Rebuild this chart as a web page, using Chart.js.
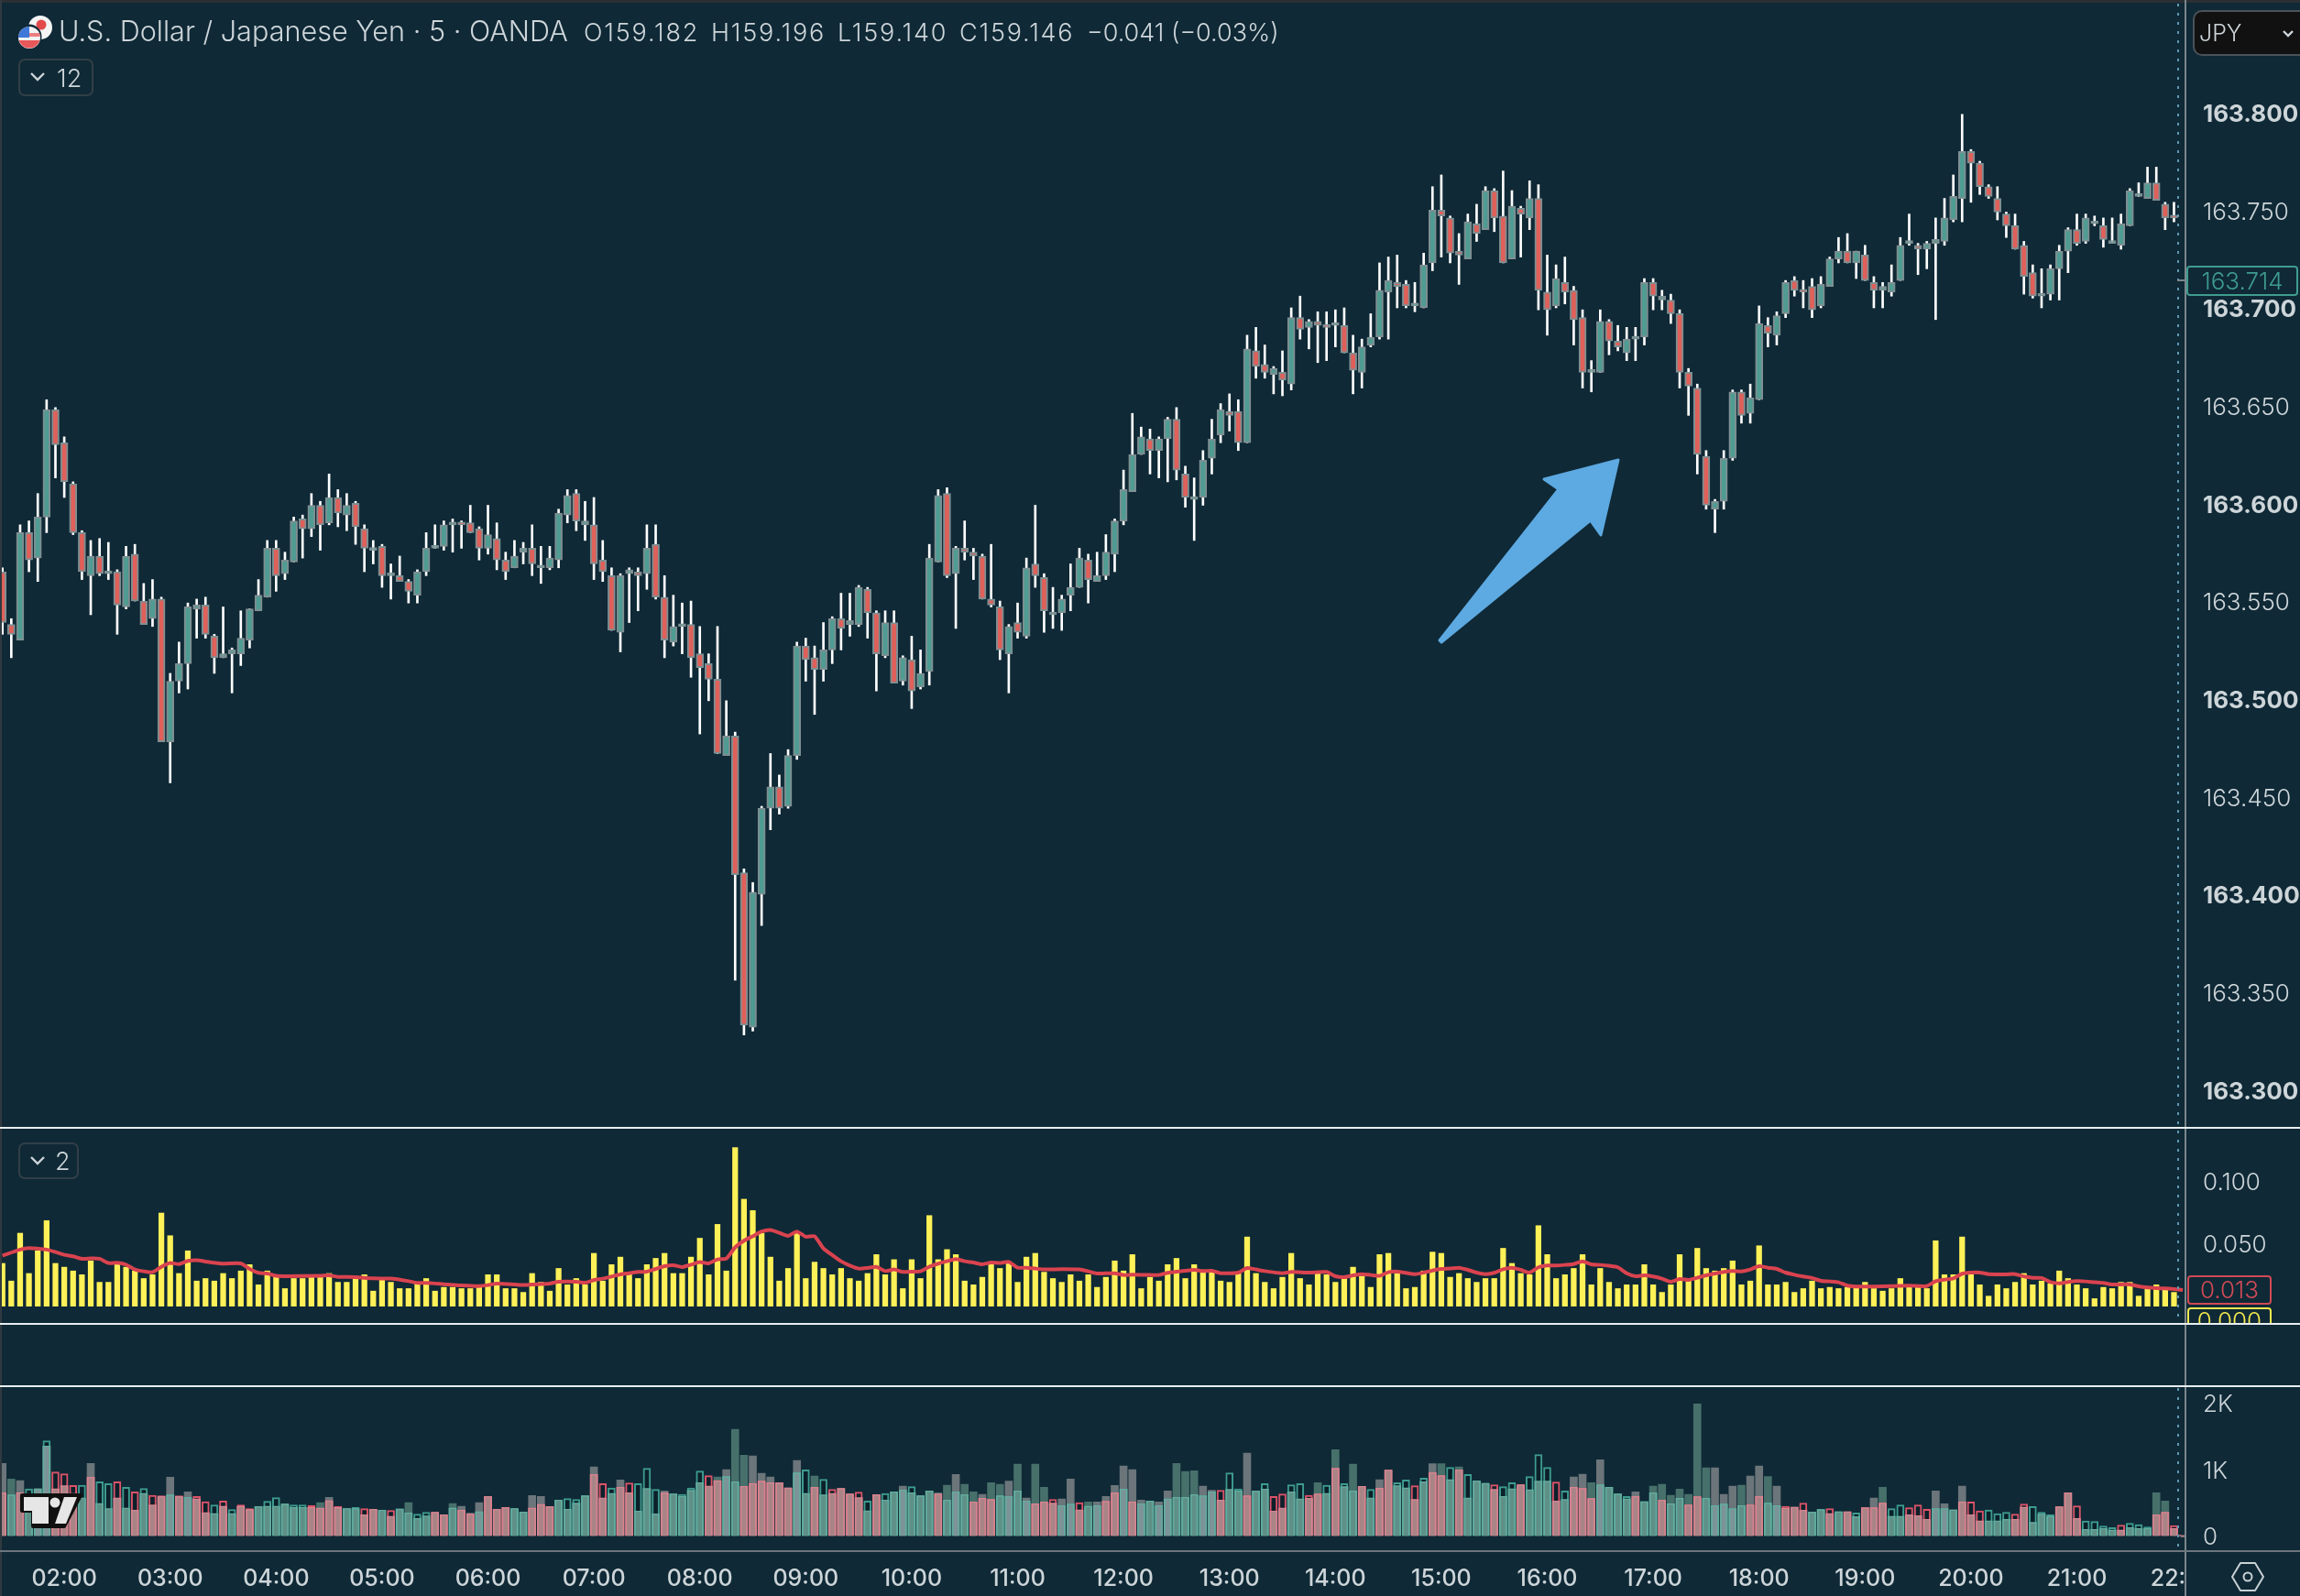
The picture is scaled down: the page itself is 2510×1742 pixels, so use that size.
<!DOCTYPE html>
<html><head><meta charset="utf-8">
<script src="https://cdn.jsdelivr.net/npm/chart.js@4/dist/chart.umd.min.js"></script>
<style>
html,body{margin:0;padding:0;background:#0f2936;width:2510px;height:1742px;overflow:hidden}
body{position:relative;font-family:Inter,"Noto Sans",sans-serif;color:#cdd5d9}
canvas{position:absolute;left:0}
.t{position:absolute;white-space:nowrap;line-height:1}
.ln{position:absolute}
.btn{position:absolute;border:2px solid #323f47;border-radius:7px;box-sizing:border-box}
.box{position:absolute;box-sizing:border-box;border-radius:4px;background:#0f2936;text-align:center;font-size:26px}
svg{position:absolute;left:0;top:0}
</style></head><body>
<canvas id="cMain" width="2510" height="1231" style="top:0"></canvas>
<canvas id="cVol" width="2510" height="214" style="top:1231px"></canvas>
<canvas id="cBars" width="2510" height="229" style="top:1513px"></canvas>

<svg width="2510" height="1742" viewBox="0 0 2510 1742">
  <line x1="2377" y1="4" x2="2377" y2="1440" stroke="#5f97b5" stroke-width="2" stroke-dasharray="3 7"/>
  <line x1="2377" y1="1515" x2="2377" y2="1692" stroke="#5f97b5" stroke-width="2" stroke-dasharray="3 7"/>
  <polygon points="1571,699 1701,534 1685,523 1766,502 1747,584 1735.6,568 1573,701" fill="#5da9e1" stroke="#5da9e1" stroke-width="3" stroke-linejoin="round"/>
  <circle cx="44" cy="30" r="13" fill="#f4f4f4"/><circle cx="45" cy="27" r="5.5" fill="#e24a4a"/>
  <circle cx="32" cy="40" r="13.5" fill="#0f2936"/>
  <circle cx="32" cy="41" r="12" fill="#f2f2f2"/>
  <path d="M20.5 44h23a12 12 0 0 1-23 0z" fill="#e8575a"/>
  <path d="M21 36h22a12 12 0 0 1 .9 4H20.1a12 12 0 0 1 .9-4z" fill="#e8575a" opacity=".75"/>
  <path d="M32 29a12 12 0 0 0-12 12h12z" fill="#3f78d8"/>
  <path d="M24 1632H88L70 1666H36V1649H24Z" fill="#101010" stroke="#101010" stroke-width="4" stroke-linejoin="round"/>
  <path d="M26 1634H53V1663H35V1649H26Z" fill="#e6e6e6"/>
  <circle cx="60" cy="1640" r="5.5" fill="#e6e6e6"/>
  <path d="M70 1634H84L72 1663H60Z" fill="#e6e6e6"/>
  <path d="M34 80l7 7 7-7" fill="none" stroke="#cdd5d9" stroke-width="2.4"/>
  <path d="M34 1263l7 7 7-7" fill="none" stroke="#cdd5d9" stroke-width="2.4"/>
  <path d="M2445 1706H2461L2470 1721L2461 1736H2445L2436 1721Z" fill="none" stroke="#c9d1d5" stroke-width="2" stroke-linejoin="round"/>
  <circle cx="2453" cy="1721" r="4.5" fill="none" stroke="#c9d1d5" stroke-width="2"/>
</svg>

<div class="ln" style="left:0;top:0;width:2510px;height:3px;background:#2b2f33"></div>
<div class="ln" style="left:0;top:0;width:2px;height:1742px;background:#2f3a40"></div>
<div class="ln" style="left:2384px;top:0;width:2px;height:1742px;background:#7b868c"></div>
<div class="ln" style="left:0;top:1230px;width:2510px;height:2px;background:#e8eef0"></div>
<div class="ln" style="left:0;top:1444px;width:2510px;height:2px;background:#e8eef0"></div>
<div class="ln" style="left:0;top:1512px;width:2510px;height:2px;background:#e8eef0"></div>
<div class="ln" style="left:0;top:1692px;width:2510px;height:2px;background:#6d767c"></div>
<div class="ln" style="left:2376px;top:305px;width:9px;height:2px;background:#7b868c"></div>

<div class="t" style="left:64px;top:19px;font-size:30.6px;font-weight:300">U.S. Dollar / Japanese Yen · 5 · OANDA</div>
<div class="t" style="left:637px;top:22px;font-size:27px;font-weight:300;letter-spacing:1.8px">O159.182</div>
<div class="t" style="left:776px;top:22px;font-size:27px;font-weight:300;letter-spacing:1.8px">H159.196</div>
<div class="t" style="left:914px;top:22px;font-size:27px;font-weight:300;letter-spacing:1.8px">L159.140</div>
<div class="t" style="left:1047px;top:22px;font-size:27px;font-weight:300;letter-spacing:1.8px">C159.146</div>
<div class="t" style="left:1186px;top:22px;font-size:27px;font-weight:300">−0.041 (−0.03%)</div>

<div class="btn" style="left:20px;top:64px;width:82px;height:41px"></div>
<div class="t" style="left:62px;top:72px;font-size:27px;font-weight:300">12</div>
<div class="btn" style="left:20px;top:1247px;width:66px;height:40px"></div>
<div class="t" style="left:60px;top:1254px;font-size:27px;font-weight:300">2</div>

<div style="position:absolute;left:2393px;top:11px;width:130px;height:50px;box-sizing:border-box;background:#111;border:2px solid #4a5258;border-radius:10px"></div>
<div class="t" style="left:2400px;top:24px;font-size:25px;font-weight:300">JPY</div>
<svg width="2510" height="1742" viewBox="0 0 2510 1742"><path d="M2492 34l5 5 5-5" fill="none" stroke="#cdd5d9" stroke-width="2.4"/></svg>

<div class="box" style="left:2386px;top:290px;width:122px;height:33px;border:2px solid #3f9c8f;color:#3f9c8f;line-height:29px;font-weight:300">163.714</div>
<div class="box" style="left:2387px;top:1392px;width:92px;height:32px;border:2px solid #cf4a55;color:#cf4a55;line-height:28px;font-weight:300">0.013</div>
<div style="position:absolute;left:2387px;top:1427px;width:92px;height:17px;overflow:hidden">
  <div class="box" style="left:0;top:0;width:92px;height:30px;border:2px solid #f4e84e;color:#f4e84e;line-height:26px;font-weight:300">0.000</div>
</div>

<script>
// ---------- candles (5 minute bars, bar 7 = 02:00) ----------
const open=[163.565,163.538,163.530,163.585,163.572,163.593,163.648,163.631,163.610,163.585,
163.563,163.573,163.564,163.565,163.547,163.574,163.550,163.541,163.551,163.478,
163.509,163.518,163.546,163.548,163.532,163.521,163.523,163.523,163.530,163.545,
163.552,163.577,163.564,163.570,163.592,163.587,163.599,163.590,163.603,163.594,
163.600,163.587,163.576,163.578,163.563,163.563,163.560,163.553,163.565,163.577,
163.578,163.589,163.590,163.590,163.587,163.577,163.582,163.571,163.567,163.575,
163.577,163.567,163.567,163.571,163.594,163.605,163.589,163.589,163.571,163.563,
163.534,163.564,163.565,163.564,163.579,163.552,163.529,163.537,163.538,163.523,
163.518,163.510,163.471,163.481,163.411,163.332,163.400,163.444,163.455,163.445,
163.471,163.527,163.521,163.515,163.525,163.541,163.538,163.538,163.556,163.544,
163.522,163.539,163.509,163.520,163.506,163.514,163.570,163.605,163.564,163.577,
163.575,163.573,163.551,163.547,163.523,163.539,163.532,163.569,163.562,163.543,
163.544,163.553,163.557,163.571,163.560,163.563,163.574,163.591,163.606,163.625,
163.633,163.627,163.633,163.643,163.615,163.602,163.603,163.623,163.635,163.647,
163.647,163.631,163.678,163.671,163.666,163.667,163.661,163.695,163.690,163.693,
163.691,163.691,163.691,163.677,163.667,163.681,163.685,163.708,163.713,163.712,
163.701,163.700,163.723,163.750,163.746,163.729,163.725,163.743,163.740,163.760,
163.747,163.725,163.751,163.746,163.756,163.708,163.701,163.713,163.709,163.695,
163.667,163.667,163.693,163.683,163.677,163.684,163.685,163.713,163.704,163.704,
163.697,163.667,163.659,163.624,163.597,163.601,163.623,163.657,163.646,163.653,
163.691,163.686,163.697,163.714,163.709,163.711,163.701,163.711,163.725,163.729,
163.723,163.727,163.713,163.709,163.708,163.714,163.733,163.732,163.730,163.733,
163.734,163.745,163.756,163.780,163.774,163.762,163.756,163.748,163.742,163.732,
163.718,163.706,163.707,163.720,163.729,163.740,163.734,163.743,163.742,163.733,
163.732,163.742,163.757,163.756,163.764,163.753,163.747];
const close=[163.539,163.533,163.585,163.571,163.593,163.648,163.630,163.611,163.585,163.565,
163.573,163.564,163.565,163.548,163.573,163.550,163.538,163.551,163.478,163.509,
163.518,163.547,163.548,163.533,163.521,163.523,163.525,163.531,163.546,163.553,
163.577,163.563,163.571,163.591,163.587,163.599,163.589,163.603,163.595,163.599,
163.588,163.577,163.577,163.563,163.564,163.560,163.555,163.565,163.577,163.578,
163.589,163.590,163.589,163.585,163.577,163.584,163.571,163.565,163.573,163.577,
163.569,163.568,163.572,163.595,163.604,163.591,163.591,163.569,163.565,163.535,
163.563,163.566,163.563,163.577,163.552,163.530,163.537,163.538,163.521,163.516,
163.510,163.472,163.481,163.410,163.333,163.401,163.444,163.455,163.444,163.471,
163.527,163.520,163.515,163.525,163.541,163.536,163.540,163.557,163.544,163.523,
163.539,163.508,163.521,163.504,163.513,163.572,163.604,163.563,163.577,163.575,
163.573,163.551,163.548,163.525,163.537,163.534,163.567,163.563,163.545,163.544,
163.551,163.557,163.572,163.561,163.563,163.575,163.591,163.607,163.625,163.634,
163.627,163.633,163.643,163.617,163.603,163.603,163.622,163.633,163.648,163.645,
163.631,163.679,163.670,163.667,163.669,163.663,163.695,163.689,163.693,163.691,
163.690,163.692,163.677,163.668,163.680,163.685,163.709,163.714,163.711,163.701,
163.702,163.722,163.750,163.747,163.728,163.727,163.744,163.738,163.760,163.746,
163.723,163.752,163.748,163.756,163.709,163.699,163.715,163.708,163.694,163.667,
163.668,163.693,163.683,163.680,163.684,163.685,163.713,163.706,163.706,163.697,
163.667,163.660,163.625,163.599,163.601,163.623,163.657,163.645,163.654,163.692,
163.687,163.696,163.713,163.709,163.708,163.699,163.712,163.725,163.729,163.723,
163.729,163.714,163.709,163.711,163.713,163.732,163.734,163.730,163.733,163.735,
163.746,163.757,163.780,163.774,163.762,163.757,163.749,163.742,163.730,163.716,
163.706,163.707,163.720,163.729,163.740,163.733,163.746,163.744,163.735,163.734,
163.743,163.760,163.758,163.764,163.755,163.746,163.746];
const high=[163.567,163.541,163.589,163.591,163.605,163.653,163.649,163.634,163.611,163.586,
163.581,163.582,163.580,163.566,163.578,163.579,163.559,163.561,163.552,163.513,
163.529,163.549,163.551,163.552,163.533,163.547,163.526,163.545,163.546,163.561,
163.581,163.581,163.575,163.593,163.594,163.605,163.601,163.615,163.607,163.605,
163.601,163.589,163.581,163.579,163.569,163.573,163.561,163.566,163.585,163.589,
163.591,163.592,163.591,163.599,163.588,163.599,163.590,163.575,163.581,163.580,
163.589,163.578,163.578,163.597,163.607,163.607,163.601,163.603,163.581,163.567,
163.564,163.567,163.567,163.589,163.589,163.563,163.553,163.549,163.550,163.537,
163.523,163.537,163.499,163.483,163.413,163.406,163.445,163.472,163.461,163.474,
163.529,163.531,163.527,163.539,163.542,163.554,163.554,163.558,163.557,163.545,
163.545,163.545,163.522,163.532,163.525,163.579,163.607,163.608,163.578,163.591,
163.577,163.574,163.579,163.550,163.538,163.549,163.572,163.599,163.564,163.557,
163.553,163.569,163.577,163.574,163.575,163.584,163.592,163.617,163.646,163.639,
163.638,163.634,163.644,163.649,163.619,163.613,163.627,163.643,163.651,163.656,
163.653,163.686,163.690,163.681,163.670,163.678,163.700,163.706,163.694,163.698,
163.698,163.699,163.700,163.686,163.684,163.697,163.723,163.726,163.727,163.714,
163.713,163.728,163.762,163.768,163.747,163.738,163.748,163.753,163.762,163.761,
163.770,163.760,163.752,163.765,163.763,163.727,163.722,163.726,163.711,163.699,
163.673,163.699,163.694,163.691,163.690,163.690,163.715,163.715,163.709,163.707,
163.699,163.669,163.661,163.627,163.602,163.627,163.658,163.658,163.661,163.701,
163.695,163.698,163.714,163.716,163.714,163.715,163.716,163.726,163.736,163.738,
163.729,163.732,163.716,163.713,163.722,163.736,163.748,163.733,163.734,163.746,
163.756,163.768,163.799,163.781,163.775,163.763,163.762,163.749,163.748,163.734,
163.722,163.720,163.722,163.732,163.741,163.748,163.748,163.747,163.746,163.746,
163.748,163.761,163.764,163.772,163.772,163.754,163.754];
const low=[163.533,163.521,163.530,163.565,163.560,163.585,163.613,163.603,163.584,163.561,
163.543,163.563,163.561,163.533,163.546,163.550,163.538,163.537,163.478,163.457,
163.503,163.505,163.531,163.531,163.513,163.521,163.503,163.517,163.526,163.545,
163.552,163.555,163.561,163.570,163.572,163.583,163.576,163.589,163.588,163.586,
163.579,163.565,163.569,163.557,163.551,163.560,163.549,163.549,163.563,163.577,
163.576,163.575,163.577,163.585,163.571,163.574,163.566,163.561,163.567,163.569,
163.563,163.559,163.566,163.567,163.590,163.586,163.581,163.561,163.560,163.535,
163.524,163.539,163.545,163.556,163.551,163.521,163.527,163.523,163.511,163.482,
163.499,163.472,163.471,163.356,163.328,163.330,163.384,163.433,163.441,163.444,
163.469,163.509,163.492,163.509,163.518,163.525,163.532,163.537,163.531,163.504,
163.521,163.508,163.507,163.495,163.505,163.507,163.570,163.562,163.536,163.571,
163.561,163.551,163.547,163.520,163.503,163.531,163.531,163.557,163.534,163.536,
163.535,163.545,163.557,163.549,163.560,163.561,163.565,163.589,163.606,163.625,
163.615,163.613,163.611,163.612,163.598,163.581,163.599,163.615,163.631,163.637,
163.627,163.631,163.664,163.664,163.656,163.655,163.658,163.684,163.679,163.672,
163.673,163.680,163.677,163.656,163.659,163.680,163.684,163.684,163.700,163.700,
163.698,163.700,163.719,163.726,163.723,163.712,163.725,163.734,163.740,163.739,
163.723,163.725,163.726,163.740,163.699,163.686,163.700,163.702,163.681,163.659,
163.657,163.667,163.676,163.678,163.673,163.673,163.681,163.699,163.699,163.692,
163.659,163.645,163.615,163.597,163.585,163.597,163.622,163.641,163.641,163.653,
163.680,163.681,163.695,163.706,163.700,163.695,163.700,163.711,163.723,163.723,
163.715,163.714,163.700,163.700,163.706,163.714,163.732,163.717,163.720,163.694,
163.732,163.744,163.744,163.754,163.758,163.756,163.745,163.736,163.730,163.707,
163.705,163.700,163.704,163.704,163.718,163.732,163.733,163.742,163.731,163.733,
163.730,163.742,163.757,163.756,163.755,163.740,163.744];

// ---------- yellow indicator pane ----------
const indicator=[.034,.020,.058,.026,.044,.068,.034,.031,.028,.025,.036,.019,.019,.033,.031,.028,.022,.025,.074,.056,
.026,.044,.020,.022,.020,.026,.022,.028,.033,.017,.028,.025,.014,.022,.022,.023,.023,.026,.019,.019,
.022,.025,.012,.022,.019,.014,.014,.019,.022,.012,.015,.015,.014,.014,.015,.025,.025,.014,.014,.011,
.026,.019,.012,.030,.017,.022,.017,.042,.020,.033,.039,.025,.022,.033,.038,.042,.026,.026,.039,.054,
.025,.065,.028,.126,.085,.076,.058,.039,.020,.030,.058,.022,.035,.030,.025,.030,.022,.020,.026,.041,
.025,.037,.014,.037,.022,.072,.037,.045,.041,.020,.017,.023,.033,.030,.035,.019,.039,.042,.027,.022,
.019,.025,.020,.025,.015,.023,.036,.028,.041,.014,.023,.020,.033,.038,.022,.033,.027,.027,.020,.019,
.026,.055,.026,.019,.014,.023,.042,.022,.017,.026,.025,.019,.022,.031,.024,.015,.041,.042,.026,.014,
.015,.028,.043,.042,.023,.026,.022,.019,.022,.022,.046,.034,.026,.025,.064,.041,.022,.025,.030,.041,
.017,.030,.019,.014,.017,.017,.033,.017,.011,.017,.041,.022,.046,.030,.028,.030,.036,.017,.020,.048,
.017,.017,.019,.011,.014,.020,.014,.015,.014,.015,.015,.019,.014,.012,.014,.022,.015,.015,.014,.052,
.025,.025,.055,.025,.017,.008,.017,.014,.019,.026,.017,.020,.018,.028,.022,.017,.014,.006,.015,.014,
.019,.019,.008,.014,.017,.014,.011];
const maBars=[0,2,3,5,6,7,8,9,10,11,12,13,14,15,16,17,18,19,20,21,22,23,24,25,27,28,29,30,31,32,36,37,38,40,42,44,46,47,48,50,52,54,55,56,58,59,60,62,63,65,66,67,68,69,70,71,72,73,74,75,76,77,78,79,80,81,82,83,84,85,86,87,88,89,90,91,92,93,94,95,96,97,98,99,100,101,102,103,104,105,106,107,108,109,110,111,112,113,114,115,116,117,118,120,122,123,124,126,127,128,130,131,132,133,134,135,136,137,138,140,141,142,143,145,146,148,150,151,152,153,154,155,156,157,158,159,160,161,162,163,164,165,166,167,168,169,170,171,172,173,174,175,176,177,178,179,180,181,182,183,184,185,186,187,188,189,190,191,192,193,194,195,196,197,198,199,200,201,202,203,204,205,206,207,208,209,210,212,214,216,218,219,220,221,222,223,224,225,227,228,229,230,231,232,233,234,235,236,237,238,239,241,242,243,244,245,246,247];
const maValues=[.0401,.0450,.0462,.0450,.0430,.0408,.0396,.0377,.0379,.0377,.0343,.0345,.0330,.0292,.0277,.0270,.0313,.0343,.0335,.0360,.0365,.0355,.0345,.0338,.0340,.0296,.0265,.0260,.0241,.0238,.0241,.0245,.0233,.0231,.0221,.0219,.0199,.0185,.0185,.0175,.0165,.0160,.0168,.0180,.0173,.0168,.0173,.0180,.0194,.0194,.0187,.0207,.0219,.0236,.0253,.0262,.0272,.0275,.0296,.0318,.0326,.0311,.0330,.0350,.0340,.0372,.0379,.0467,.0520,.0556,.0593,.0605,.0583,.0559,.0593,.0552,.0556,.0459,.0406,.0357,.0323,.0299,.0304,.0313,.0279,.0292,.0272,.0275,.0277,.0313,.0338,.0357,.0374,.0357,.0347,.0333,.0347,.0343,.0352,.0306,.0306,.0299,.0292,.0294,.0292,.0277,.0260,.0262,.0248,.0250,.0248,.0248,.0265,.0275,.0282,.0289,.0279,.0282,.0262,.0267,.0304,.0292,.0279,.0262,.0272,.0267,.0272,.0238,.0231,.0245,.0255,.0248,.0241,.0270,.0275,.0265,.0255,.0267,.0284,.0296,.0299,.0306,.0289,.0267,.0255,.0265,.0294,.0306,.0289,.0267,.0309,.0323,.0323,.0328,.0335,.0357,.0333,.0328,.0321,.0309,.0262,.0238,.0245,.0236,.0219,.0194,.0216,.0209,.0226,.0245,.0260,.0272,.0279,.0277,.0292,.0318,.0306,.0296,.0267,.0250,.0236,.0224,.0202,.0197,.0190,.0163,.0156,.0156,.0160,.0163,.0160,.0199,.0211,.0221,.0258,.0267,.0267,.0255,.0253,.0255,.0236,.0226,.0224,.0192,.0182,.0192,.0199,.0197,.0190,.0185,.0173,.0173,.0158,.0148,.0143,.0141,.0136,.0129];

// ---------- volume pane ----------
const volumeA=[1083,849,826,587,702,1344,702,748,633,564,1083,482,404,564,413,381,633,459,587,876,
587,656,550,344,330,440,330,440,390,436,440,440,472,422,422,422,495,573,422,404,
404,312,394,381,289,399,495,257,294,349,312,482,440,335,495,587,394,422,404,353,
601,587,436,532,394,486,596,1032,564,633,835,642,367,706,326,670,624,587,679,794,
743,881,991,1596,1206,1197,936,881,794,716,1128,633,894,610,633,706,624,569,372,615,
532,656,743,642,596,670,642,757,917,771,656,619,794,771,816,1073,564,1073,725,486,
550,849,385,505,505,587,752,1046,991,532,518,505,670,1083,963,972,743,679,532,693,
670,1238,670,697,367,413,656,550,560,794,633,1289,734,1073,739,564,839,982,748,716,
541,807,1078,1078,839,1032,564,821,784,693,587,702,761,688,816,816,518,541,881,922,
794,1138,725,624,550,656,509,743,771,605,697,619,1977,1018,1018,619,743,757,894,1046,
885,743,413,427,381,353,390,330,358,358,284,417,564,725,289,289,312,298,243,670,
477,385,743,312,220,220,220,243,243,427,197,321,289,431,642,257,92,92,105,83,
83,119,105,105,642,518,105,0];
const volumeB=[642,610,642,702,702,1422,954,927,752,757,876,807,780,807,725,656,706,605,596,610,
596,573,587,509,459,518,390,459,404,436,514,569,472,459,459,450,413,523,436,404,
422,404,394,381,376,399,339,321,349,349,312,413,381,321,358,587,394,422,404,353,
413,468,436,532,555,541,596,917,780,716,725,789,780,1009,693,642,624,619,716,968,
899,826,885,807,739,780,816,794,794,716,940,986,725,844,693,706,624,651,518,615,
633,656,683,734,596,670,624,532,656,615,505,560,541,596,587,670,518,477,505,541,
450,472,495,440,450,514,642,697,505,477,518,450,550,573,573,615,596,656,679,940,
702,596,670,780,587,624,761,780,605,624,757,1009,780,670,739,693,711,982,794,835,
748,862,945,899,1023,986,917,821,784,761,734,794,761,885,1216,1023,803,670,725,706,
555,761,725,624,587,587,509,642,532,477,560,459,583,560,450,472,404,450,459,587,
486,450,440,427,486,353,390,404,358,358,339,417,417,486,404,459,417,459,394,404,
404,385,505,505,372,385,330,349,321,472,436,349,312,431,642,445,220,211,142,119,
156,183,165,128,312,349,151,10];
const sideB="rtrtttrrrt"+"rttrtrtrrt"+"rtrrtrtrrt"+"tttttrrrrt"+"trrtrttttr"+"rtrrtrrrtt"+"rrrttttrrt"+"rrtttrtttt"+
"rrttrrrrrr"+"ttrtrrrrtr"+"ttttttrttt"+"rrrttttrrr"+"ttrttrrtrt"+"ttttttttrt"+"trttrrttrr"+"trttrtrrtt"+
"rtrrtrtttr"+"ttrtttrtrr"+"rttttrttrt"+"trrtttttrr"+"ttrrrttrtr"+"trrrttrrrt"+"ttrrrtttrr"+"tttrrrtttt"+"rtttrrrr";
const grayAIndex=[0,2,4,5,10,19,21,37,52,53,54,60,61,67,70,75,82,85,86,87,90,102,108,111,114,116,120,121,124,125,126,127,128,129,131,132,136,137,141,156,162,178,179,181,185,194,195,196,198,199,201,212,219,220,222];

// ---------- axes ----------
const timeLabels=["02:00","03:00","04:00","05:00","06:00","07:00","08:00","09:00","10:00","11:00","12:00","13:00","14:00","15:00","16:00","17:00","18:00","19:00","20:00","21:00","22:00"];
const timeTickBars=[7,19,31,43,55,67,79,91,103,115,127,139,151,163,175,187,199,211,223,235,247];
const priceTicks=[163.8,163.75,163.7,163.65,163.6,163.55,163.5,163.45,163.4,163.35,163.3];
const priceTickLabels=["163.800","163.750","163.700","163.650","163.600","163.550","163.500","163.450","163.400","163.350","163.300"];
const indicatorTicks=[0.1,0.05];
const indicatorTickLabels=["0.100","0.050"];
const volumeTicks=[2000,1000,0];
const volumeTickLabels=["2K","1K","0"];

// ---------- styling ----------
const BG='#0f2936',FONT='Inter, "Noto Sans", sans-serif',LABEL='#cdd5d9';
const UP='#4f9c93',DOWN='#e0605a',EDGE='#7f8f92',WICK='#ffffff';
const xMin=-0.28,xMax=247.3;
Chart.defaults.animation=false;
Chart.defaults.font.family=FONT;
const noPad=s=>{s.paddingTop=0;s.paddingBottom=0;s.paddingLeft=0;s.paddingRight=0};
// nudges the right-hand tick labels down so the glyphs centre on their tick
const nudgeLabels=(s,dy)=>{
  if(s._nudged)return; s._nudged=true;
  const orig=s.getLabelItems.bind(s);
  s.getLabelItems=a=>{const it=orig(a);it.forEach(t=>{if(!t._n){t._n=true;t.options.translation[1]+=dy}});return it};
};

const xScale=(extra)=>Object.assign({type:'linear',min:xMin,max:xMax,offset:false,display:false,grid:{display:false},border:{display:false}},extra||{});
const yScale=(min,max,ticksArr,labels,fontFn)=>({
  type:'linear',position:'right',min,max,
  grid:{display:false,drawTicks:false},border:{display:false},
  afterFit:s=>{s.width=125;noPad(s);nudgeLabels(s,2.5)},
  afterBuildTicks:s=>{s.ticks=ticksArr.map(v=>({value:v}))},
  ticks:{autoSkip:false,padding:19,crossAlign:'near',color:LABEL,
    font:fontFn||{family:FONT,size:26,weight:'300'},
    callback:(v,i)=>labels[i]}
});
const baseOpts=(x,y)=>({responsive:false,maintainAspectRatio:false,animation:false,devicePixelRatio:1,
  layout:{padding:0},
  plugins:{legend:{display:false},tooltip:{enabled:false}},
  scales:{x,y}});

// main price pane
const bars=open.map((_,i)=>i);
new Chart(document.getElementById('cMain'),{
  type:'bar',
  data:{datasets:[
    {label:'body',grouped:false,barThickness:8,minBarLength:3,borderWidth:2,borderSkipped:false,
     borderColor:EDGE,
     backgroundColor:bars.map(i=>close[i]>=open[i]?UP:DOWN),
     data:bars.map(i=>({x:i,y:[open[i],close[i]]}))},
    {label:'wick',grouped:false,barThickness:2,backgroundColor:WICK,borderWidth:0,
     data:bars.map(i=>({x:i,y:[low[i],high[i]]}))}
  ]},
  options:baseOpts(xScale(),yScale(163.2805,163.8575,priceTicks,priceTickLabels,
    c=>({family:FONT,size:26,weight:(c.index%2===0)?'700':'300'})))
});

// indicator pane
new Chart(document.getElementById('cVol'),{
  type:'bar',
  data:{datasets:[
    {type:'line',label:'average',borderColor:'#d9434f',borderWidth:4,pointRadius:0,tension:0.2,fill:false,
     data:maBars.map((b,k)=>({x:b,y:maValues[k]}))},
    {label:'value',grouped:false,barThickness:5.6,backgroundColor:'#fff157',borderWidth:0,
     data:indicator.map((v,i)=>({x:i,y:v}))}
  ]},
  options:baseOpts(xScale(),yScale(-0.01405,0.1417,indicatorTicks,indicatorTickLabels))
});

// volume pane
const grayA=new Set(grayAIndex);
const coverLabel={id:'coverLabel',afterDraw(c){
  const g=c.ctx;g.save();g.fillStyle=BG;
  g.fillRect(c.chartArea.right,c.chartArea.bottom,c.width-c.chartArea.right,c.height-c.chartArea.bottom);
  g.restore();}};
const both=(i)=>Math.min(volumeA[i],volumeB[i]);
new Chart(document.getElementById('cBars'),{
  type:'bar',
  plugins:[coverLabel],
  data:{datasets:[
    {label:'overlap',grouped:false,barThickness:4.4,borderWidth:0,
     backgroundColor:volumeA.map((_,i)=>sideB[i]==='r'?'#a98487':(grayA.has(i)?'#7c9397':'#5f9088')),
     data:volumeA.map((_,i)=>({x:i,y:both(i)-18}))},
    {label:'overlap edge',grouped:false,barThickness:8,borderWidth:0,
     backgroundColor:volumeA.map((_,i)=>sideB[i]==='r'?'#d8838f':'#62ad9e'),
     data:volumeA.map((_,i)=>({x:i,y:both(i)}))},
    {label:'B',grouped:false,barThickness:8,borderWidth:2,borderSkipped:false,
     backgroundColor:'#0c202a',
     borderColor:volumeB.map((_,i)=>sideB[i]==='r'?'#dc5369':'#3d9c8f'),
     data:volumeB.map((v,i)=>({x:i,y:v}))},
    {label:'A',grouped:false,barThickness:8,borderWidth:0,
     backgroundColor:volumeA.map((_,i)=>grayA.has(i)?'#6b757a':'#47706b'),
     data:volumeA.map((v,i)=>({x:i,y:v}))}
  ]},
  options:baseOpts(
    xScale({display:true,position:'bottom',
      afterFit:s=>{s.height=49.3;noPad(s)},
      afterBuildTicks:s=>{s.ticks=timeTickBars.map(v=>({value:v}))},
      grid:{display:false,drawTicks:false},border:{display:false},
      ticks:{autoSkip:false,maxRotation:0,minRotation:0,padding:16,color:LABEL,
        font:{family:FONT,size:25,weight:'500'},callback:(v,i)=>timeLabels[i]}}),
    yScale(-230,2243,volumeTicks,volumeTickLabels))
});
</script>
</body></html>
